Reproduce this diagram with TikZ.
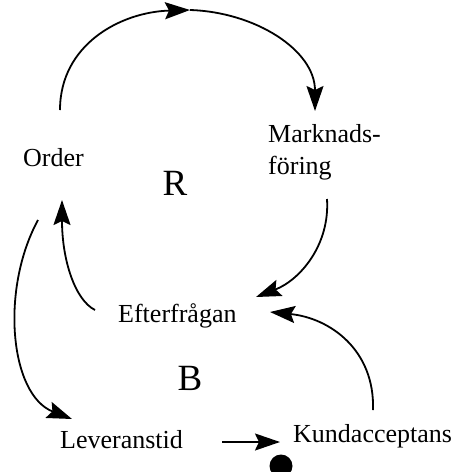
\documentclass[tikz,border=0pt]{standalone}
\usepackage{fontspec}
\setmainfont{Liberation Serif}
\usetikzlibrary{arrows.meta}
\begin{document}
\begin{tikzpicture}[x=1pt,y=-1pt,
  lbl/.style={inner sep=0pt, font=\fontsize{26}{32}\selectfont},
  loopname/.style={inner sep=0pt, font=\fontsize{37}{40}\selectfont},
  link/.style={line width=1.8pt, -{Stealth[length=25pt,width=17pt,inset=4pt]}}]
  \useasboundingbox (0,0) rectangle (457,472);
  \clip (0,0) rectangle (457,472);

  % variables of the loops
  \node[lbl, anchor=base west] (order) at (23,166) {Order};
  \node[lbl, anchor=base west, align=left] (mark) at (268,174) {Marknads-\\föring};
  \node[lbl, anchor=base west] (eft) at (118,322) {Efterfrågan};
  \node[lbl, anchor=base west] (lev) at (60,448) {Leveranstid};
  \node[lbl, anchor=base west] (kund) at (293,442) {Kundacceptans};

  % loop markers
  \node[loopname] (R) at (175,183) {R};
  \node[loopname] (B) at (190,378) {B};

  % end points of the connectors
  \coordinate (o1) at (60,110);
  \coordinate (top) at (190,10);
  \coordinate (m1) at (315,111);
  \coordinate (m2) at (327,199);
  \coordinate (e1) at (256,297);
  \coordinate (k1) at (373,410);
  \coordinate (e2) at (270,312);
  \coordinate (e3) at (95,310);
  \coordinate (o2) at (62,200);
  \coordinate (o3) at (38,220);
  \coordinate (l1) at (72,419);
  \coordinate (l2) at (222,442);
  \coordinate (k2) at (280,442);

  % reinforcing loop
  \draw[link] (o1) .. controls (60,45) and (120,12) .. (top);
  \draw[link] (top) .. controls (255,12) and (315,50) .. (m1);
  \draw[link] (m2) .. controls (330,245) and (300,280) .. (e1);
  \draw[link] (e3) .. controls (75,300) and (62,260) .. (o2);

  % balancing loop
  \draw[link] (o3) .. controls (0,290) and (10,395) .. (l1);
  \draw[link] (l2) -- (k2);
  \draw[link] (k1) .. controls (375,350) and (330,318) .. (e2);

  % negative polarity mark
  \node[circle, fill=black, minimum size=23pt, inner sep=0pt] (neg) at (281,466) {};
\end{tikzpicture}
\end{document}
